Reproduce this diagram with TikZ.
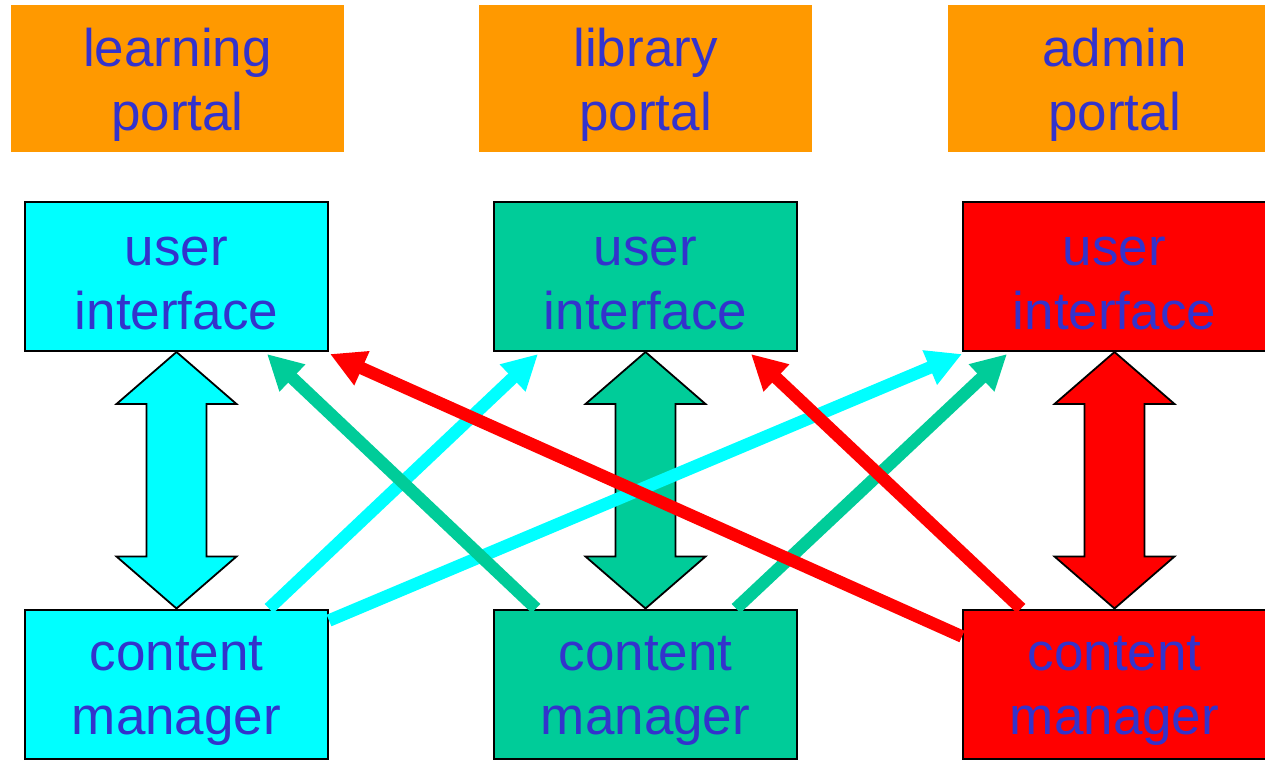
\documentclass[tikz,border=0pt]{standalone}
\usepackage{fontspec}
\setmainfont{Liberation Sans}
\usetikzlibrary{arrows.meta,calc}
\definecolor{portalorange}{RGB}{255,153,0}
\definecolor{aqua}{RGB}{0,255,255}
\definecolor{sea}{RGB}{0,204,153}
\definecolor{signal}{RGB}{255,0,0}
\definecolor{ink}{RGB}{51,51,204}
\tikzset{
  every node/.style={inner sep=0pt},
  caption/.style={font=\fontsize{53}{64}\selectfont, text=ink, align=center, yshift=-6.5pt},
  portal/.style={fill=portalorange, minimum width=333, minimum height=147,
    label={[caption]center:#1}},
  unit/.style={draw=black, line width=2pt, minimum width=303, minimum height=149,
    label={[caption]center:#1}},
  dbl/.style={draw=black, line width=1.8pt, line join=miter},
  link/.style={line width=12.5pt, line cap=butt, -{Triangle[length=35pt,width=35pt]}},
}
\begin{document}
\begin{tikzpicture}[x=1pt, y=-1pt]
  \useasboundingbox (0,0) rectangle (1265,760);
  \clip (0,0) rectangle (1265,760);

  % portals
  \node[portal={learning\\portal}] (p1) at (177.5,78.5) {};
  \node[portal={library\\portal}]  (p2) at (645.5,78.5) {};
  \node[portal={admin\\portal}]    (p3) at (1114.5,78.5) {};

  % user interfaces
  \node[unit={user\\interface}, fill=aqua]   (u1) at (176.5,276.5) {};
  \node[unit={user\\interface}, fill=sea]    (u2) at (645.5,276.5) {};
  \node[unit={user\\interface}, fill=signal] (u3) at (1114.5,276.5) {};

  % content managers
  \node[unit={content\\manager}, fill=aqua]   (c1) at (176.5,684) {};
  \node[unit={content\\manager}, fill=sea]    (c2) at (645.5,684) {};
  \node[unit={content\\manager}, fill=signal] (c3) at (1114.5,684) {};

  % two-way block arrows inside each column
  \foreach \u/\c/\col in {u1/c1/aqua, u2/c2/sea, u3/c3/signal}{
    \draw[dbl, fill=\col] (\u.south) -- ++(60,52) -- ++(-30,0)
      -- ($(\c.north)+(30,-52)$) -- ++(30,0) -- (\c.north)
      -- ++(-60,-52) -- ++(30,0) -- ($(\u.south)+(-30,52)$) -- ++(-30,0) -- cycle;
  }

  % cross links from content managers to the other interfaces
  \draw[link, aqua] ($(c1.north west)+(245,0)$) -- ($(u2.south west)+(45,2)$);
  \draw[link, aqua] ($(c1.north east)+(0,12)$) -- ($(u3.south west)+(0,2)$);
  \draw[link, sea] ($(c2.north west)+(43,0)$) -- ($(u1.south west)+(243,2)$);
  \draw[link, sea] ($(c2.north west)+(243,0)$) -- ($(u3.south west)+(45,2)$);
  \draw[link, signal] ($(c3.north west)+(0,28)$) -- ($(u1.south east)+(1,2)$);
  \draw[link, signal] ($(c3.north west)+(59,0)$) -- ($(u2.south west)+(258,2)$);
\end{tikzpicture}
\end{document}
